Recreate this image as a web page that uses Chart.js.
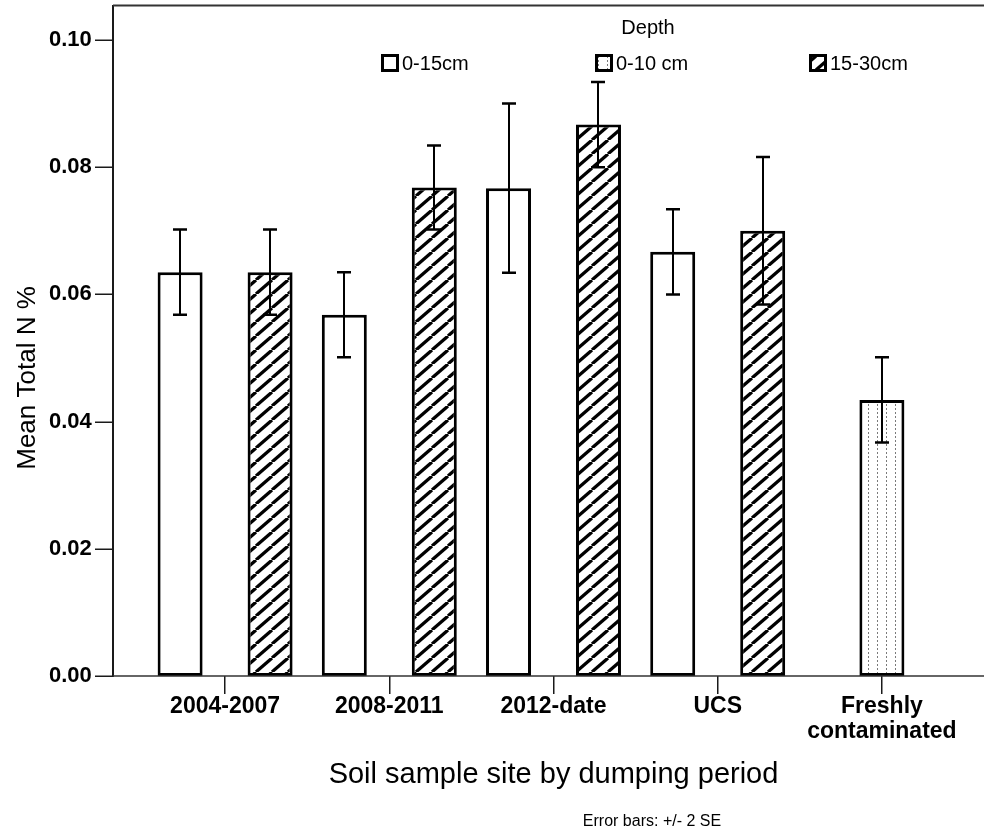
<!DOCTYPE html>
<html>
<head>
<meta charset="utf-8">
<script src="https://cdn.jsdelivr.net/npm/chart.js@4/dist/chart.umd.min.js"></script>
<style>
  html, body { margin: 0; padding: 0; background: #ffffff; }
  canvas { display: block; }
</style>
</head>
<body>
<canvas id="chart" width="984" height="832"></canvas>
<script>
// Soil sample sites (x categories) and depth groups (series)
const sites = ['2004-2007', '2008-2011', '2012-date', 'UCS', ['Freshly', 'contaminated']];
const depths = ['0-15cm', '0-10 cm', '15-30cm'];

// Mean total N % per site, one array per depth
const mean0to15  = [0.0635, 0.0568, 0.0767, 0.0667, null];
const mean0to10  = [null, null, null, null, 0.0434];
const mean15to30 = [0.0635, 0.0768, 0.0867, 0.0700, null];

// Error bar half-widths (2 x standard error)
const twoSE0to15  = [0.0067, 0.0067, 0.0133, 0.0067, null];
const twoSE0to10  = [null, null, null, null, 0.0067];
const twoSE15to30 = [0.0067, 0.0066, 0.0067, 0.0116, null];

const yTickStep = 0.02;
const yMax = 0.1055;

const FONT = '"Liberation Sans", Arial, sans-serif';
const canvas = document.getElementById('chart');
const ctx = canvas.getContext('2d');

// Fill patterns: plain white, dotted grey columns, black diagonal hatching
function makeFill(kind) {
  if (kind === 'plain') return '#ffffff';
  const t = document.createElement('canvas');
  let g;
  if (kind === 'dots') {
    t.width = 9; t.height = 4;
    g = t.getContext('2d');
    g.fillStyle = '#ffffff'; g.fillRect(0, 0, 9, 4);
    g.fillStyle = '#7a7a7a'; g.fillRect(4, 0, 1, 2);
  } else {
    const w = 16, h = 14;
    t.width = w; t.height = h;
    g = t.getContext('2d');
    g.fillStyle = '#ffffff'; g.fillRect(0, 0, w, h);
    g.strokeStyle = '#000000'; g.lineWidth = 3.2;
    for (const k of [-1, 0, 1]) {
      g.beginPath();
      g.moveTo(k * w, h);
      g.lineTo(k * w + w, 0);
      g.stroke();
    }
  }
  return ctx.createPattern(t, 'repeat');
}

const fills = [makeFill('plain'), makeFill('dots'), makeFill('hatch')];

Chart.defaults.color = '#000000';
Chart.defaults.font.family = FONT;

// Axis frame, y tick marks, y title and note text
const framePlugin = {
  id: 'frame',
  afterDatasetsDraw(chart) {
    const c = chart.ctx, a = chart.chartArea, y = chart.scales.y;
    const axisX = 113, rightX = 984;
    c.save();
    c.strokeStyle = '#1a1a1a';
    c.lineWidth = 2;
    c.beginPath(); c.moveTo(axisX, a.top); c.lineTo(axisX, a.bottom + 1); c.stroke();
    c.strokeStyle = '#333333';
    c.beginPath(); c.moveTo(axisX, a.top + 0.5); c.lineTo(rightX, a.top + 0.5); c.stroke();
    c.lineWidth = 1.5;
    c.beginPath(); c.moveTo(axisX, a.bottom); c.lineTo(rightX, a.bottom); c.stroke();
    c.strokeStyle = '#1a1a1a';
    c.lineWidth = 1.5;
    y.ticks.forEach(t => {
      const py = Math.round(y.getPixelForValue(t.value)) + 0.25;
      c.beginPath(); c.moveTo(axisX - 18, py); c.lineTo(axisX, py); c.stroke();
    });
    c.fillStyle = '#000000';
    c.font = '26px ' + FONT;
    c.textAlign = 'center';
    c.textBaseline = 'middle';
    c.translate(28, 378);
    c.rotate(-Math.PI / 2);
    c.fillText('Mean Total N %', 0, 0);
    c.restore();
    c.save();
    c.fillStyle = '#000000';
    c.font = '16px ' + FONT;
    c.textAlign = 'center';
    c.textBaseline = 'middle';
    c.fillText('Error bars: +/- 2 SE', 652, 822);
    c.restore();
  }
};

// Error bars (mean +/- 2 SE) over every bar
const errorBarPlugin = {
  id: 'errorBars',
  afterDatasetsDraw(chart) {
    const c = chart.ctx, y = chart.scales.y;
    c.save();
    c.strokeStyle = '#000000';
    chart.data.datasets.forEach((ds, i) => {
      const meta = chart.getDatasetMeta(i);
      meta.data.forEach((bar, j) => {
        const v = ds.data[j], e = ds.twoSE[j];
        if (v == null || e == null) return;
        const top = y.getPixelForValue(v + e);
        const bot = y.getPixelForValue(v - e);
        const x = Math.round(bar.x);
        c.lineWidth = 2;
        c.beginPath(); c.moveTo(x, top); c.lineTo(x, bot); c.stroke();
        c.lineWidth = 2.5;
        c.beginPath();
        c.moveTo(x - 7, top); c.lineTo(x + 7, top);
        c.moveTo(x - 7, bot); c.lineTo(x + 7, bot);
        c.stroke();
      });
    });
    c.restore();
  }
};

// Legend titled "Depth", laid out in three columns
const legendPlugin = {
  id: 'depthLegend',
  afterDraw(chart) {
    const c = chart.ctx;
    const centerX = 648, colStep = 214, rowY = 63, box = 18;
    c.save();
    c.fillStyle = '#000000';
    c.font = '20px ' + FONT;
    c.textAlign = 'center';
    c.textBaseline = 'middle';
    c.fillText('Depth', centerX, 28);
    chart.data.datasets.forEach((ds, i) => {
      const bx = centerX - 267 + i * colStep;
      c.fillStyle = ds.backgroundColor;
      c.fillRect(bx, rowY - box / 2, box, box);
      c.strokeStyle = '#000000';
      c.lineWidth = 3;
      c.strokeRect(bx + 1.5, rowY - box / 2 + 1.5, box - 3, box - 3);
      c.fillStyle = '#000000';
      c.textAlign = 'left';
      c.fillText(ds.label, bx + box + 3, rowY + 1);
    });
    c.restore();
  }
};

const seriesMeans = [mean0to15, mean0to10, mean15to30];
const seriesSE = [twoSE0to15, twoSE0to10, twoSE15to30];

new Chart(ctx, {
  type: 'bar',
  data: {
    labels: sites,
    datasets: depths.map((d, i) => ({
      label: d,
      data: seriesMeans[i],
      twoSE: seriesSE[i],
      backgroundColor: fills[i],
      borderColor: '#000000',
      borderWidth: 3,
      borderSkipped: false,
      categoryPercentage: 0.822,
      barPercentage: 1.0
    }))
  },
  options: {
    responsive: false,
    animation: false,
    devicePixelRatio: 1,
    layout: { padding: { top: 5, right: 20, bottom: 0, left: 49 } },
    plugins: {
      legend: { display: false },
      tooltip: { enabled: false }
    },
    scales: {
      x: {
        offset: true,
        border: { display: false },
        grid: {
          display: true, offset: false, drawOnChartArea: false,
          drawTicks: true, tickLength: 18, color: '#1a1a1a', lineWidth: 1.5
        },
        ticks: {
          autoSkip: false, maxRotation: 0, padding: 0,
          font: { family: FONT, size: 23, weight: 'bold', lineHeight: 1.1 }, color: '#000000'
        },
        title: {
          display: true,
          text: 'Soil sample site by dumping period',
          font: { family: FONT, size: 29 },
          color: '#000000',
          padding: { top: 0, bottom: 40 }
        },
        afterFit(scale) { scale.height = 156; }
      },
      y: {
        min: 0,
        max: yMax,
        border: { display: false },
        grid: { display: false, drawTicks: false },
        ticks: {
          stepSize: yTickStep,
          includeBounds: false,
          padding: 0,
          crossAlign: 'far',
          font: { family: FONT, size: 22, weight: 'bold' },
          color: '#000000',
          callback: v => v.toFixed(2)
        },
        afterFit(scale) {
          scale.width = 94;
          scale.paddingTop = 0;
          scale.paddingBottom = 0;
        }
      }
    }
  },
  plugins: [framePlugin, errorBarPlugin, legendPlugin]
});
</script>
</body>
</html>
